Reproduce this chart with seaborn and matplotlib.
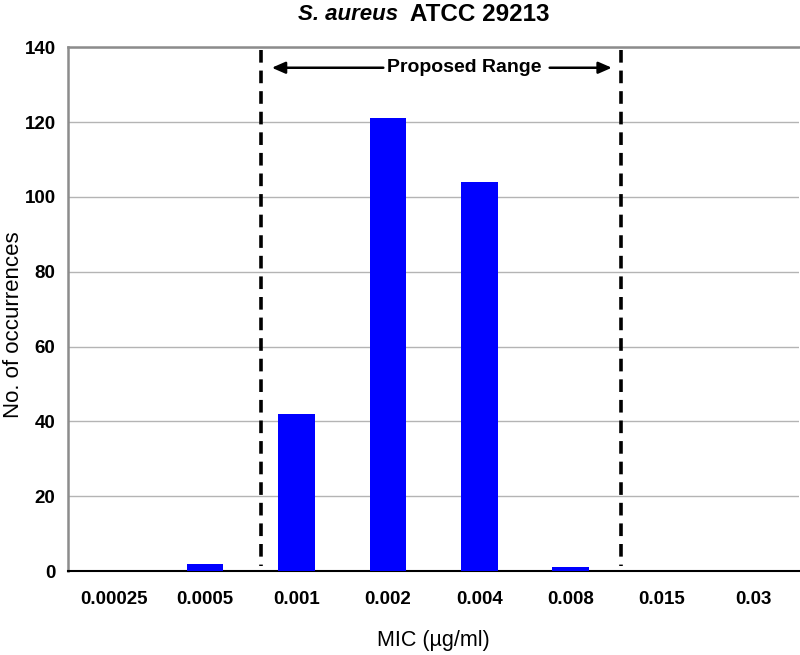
import matplotlib
matplotlib.use("Agg")
import matplotlib.pyplot as plt
import seaborn as sns

mic_labels = ["0.00025", "0.0005", "0.001", "0.002", "0.004", "0.008", "0.015", "0.03"]
occurrences = [0, 2, 42, 121, 104, 1, 0, 0]

# proposed range markers (category units) and arrow height
range_left = 1.61
range_right = 5.55
arrow_y = 134.5

sns.set_style("white")
plt.rcParams["font.family"] = ["Liberation Sans", "DejaVu Sans"]
plt.rcParams["text.color"] = "black"
plt.rcParams["axes.labelcolor"] = "black"
plt.rcParams["xtick.color"] = "black"
plt.rcParams["ytick.color"] = "black"

fig = plt.figure(figsize=(8, 6.55), dpi=100)
ax = fig.add_axes([0.085, 0.128, 0.914, 0.8])

sns.barplot(x=mic_labels, y=occurrences, color="#0000FF", saturation=1,
            width=0.4, ax=ax, zorder=3, linewidth=0)

ax.set_ylim(0, 140)
ax.set_xlim(-0.5, len(mic_labels) - 0.5)
ax.set_yticks(range(0, 141, 20))
ax.yaxis.grid(True, color="#b4b4b4", linewidth=1, zorder=0)
ax.set_axisbelow(True)

for s in ["left", "top"]:
    ax.spines[s].set_color("#8c8c8c")
    ax.spines[s].set_linewidth(1.8)
ax.spines["right"].set_visible(False)
ax.spines["bottom"].set_color("black")
ax.spines["bottom"].set_linewidth(1.5)

ax.tick_params(axis="y", length=5, color="#aaaaaa", labelcolor="black",
               labelsize=13.5, pad=4)
ax.tick_params(axis="x", which="major", length=0, labelsize=13.5, pad=14)
ax.set_xticks([i + 0.5 for i in range(-1, len(mic_labels))], minor=True)
ax.tick_params(axis="x", which="minor", length=6, width=1.3, color="black")
for lab in ax.get_xticklabels() + ax.get_yticklabels():
    lab.set_fontweight("bold")

ax.set_xlabel("MIC (\u00b5g/ml)", fontsize=15.5, labelpad=16)
ax.set_ylabel("No. of occurrences", fontsize=16, va="center")
ax.yaxis.set_label_coords(-0.075, 0.47)

# proposed range dashed lines
for xr in (range_left, range_right):
    ax.plot([xr, xr], [139.2, 1.5], color="black", linewidth=2.6,
            linestyle=(0, (3.5, 2.2)), zorder=4)

ax.text(3.84, arrow_y, "Proposed Range",
        ha="center", va="center", fontsize=14, fontweight="bold")
ax.annotate("", xy=(range_left + 0.12, arrow_y), xytext=(2.95, arrow_y),
            arrowprops=dict(arrowstyle="-|>,head_length=0.8,head_width=0.35",
                            color="black", lw=1.8, shrinkA=0, shrinkB=0))
ax.annotate("", xy=(range_right - 0.1, arrow_y), xytext=(4.77, arrow_y),
            arrowprops=dict(arrowstyle="-|>,head_length=0.8,head_width=0.35",
                            color="black", lw=1.8, shrinkA=0, shrinkB=0))

fig.text(0.505, 0.978, "S. aureus ", ha="right", va="center", fontsize=16,
         fontweight="bold", fontstyle="italic")
fig.text(0.505, 0.978, " ATCC 29213", ha="left", va="center", fontsize=17.5,
         fontweight="bold")

fig.savefig("out.png", dpi=100)
